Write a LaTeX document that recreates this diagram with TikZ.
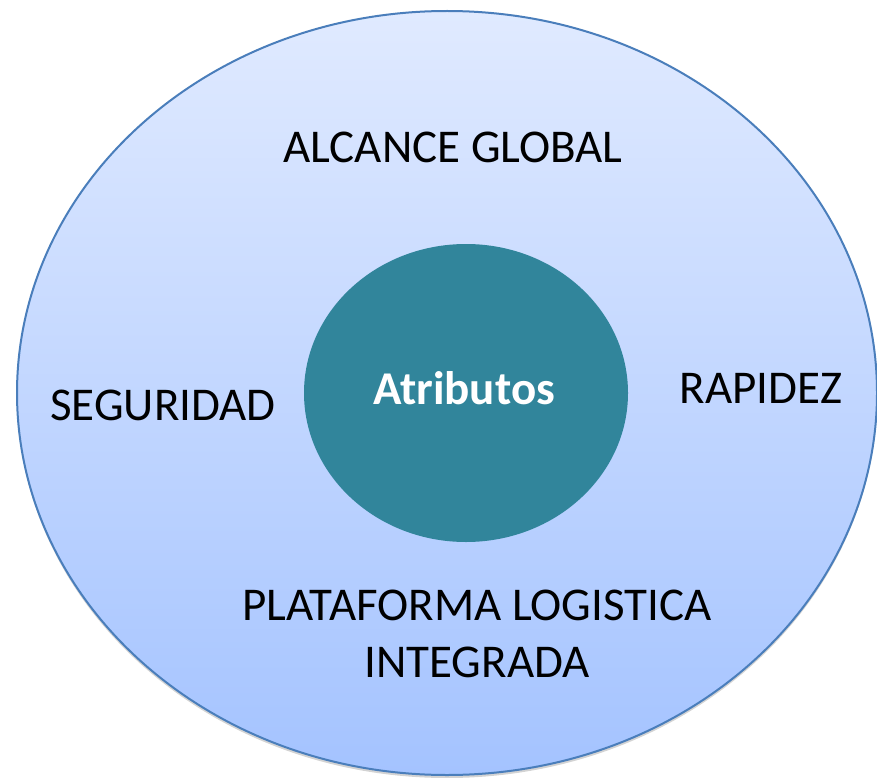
\documentclass[tikz,border=0pt]{standalone}
\usepackage{fontspec}
\setmainfont{Carlito}
\usetikzlibrary{shapes.geometric,shadows}
\definecolor{ringtop}{RGB}{224,234,255}
\definecolor{ringbot}{RGB}{164,195,255}
\definecolor{ringline}{RGB}{74,126,187}
\definecolor{coreteal}{RGB}{49,133,155}

\begin{document}
\begin{tikzpicture}[x=1pt, y=-1pt]
        \tikzstyle{every node}=[inner sep=0pt, font=\fontsize{47}{57}\selectfont]
        \tikzstyle{ring}=[ellipse, draw=ringline, line width=2pt, top color=ringtop, bottom color=ringbot, drop shadow={shadow xshift=0pt, shadow yshift=-3pt, opacity=0.35}]
        \tikzstyle{core}=[ellipse, fill=coreteal, text=white, font=\fontsize{47}{57}\selectfont\bfseries]
        \tikzstyle{attr}=[align=center, text=black]
        \useasboundingbox (0,0) rectangle (877,778);
        \node [ring, minimum width=860pt, minimum height=764pt] (outer) at (447,393) {};
        \node [core, minimum width=324pt, minimum height=298pt] (centro) at (466,393) {};
        \node (atrib) at (464,388) {\color{white}\bfseries Atributos};
        \node [attr] (alcance) at (453,147) {ALCANCE GLOBAL};
        \node [attr] (seguridad) at (163,405) {SEGURIDAD};
        \node [attr] (rapidez) at (761,388) {RAPIDEZ};
        \node [attr] (plataforma) at (477,634) {PLATAFORMA LOGISTICA\\INTEGRADA};
    \end{tikzpicture}
\end{document}
